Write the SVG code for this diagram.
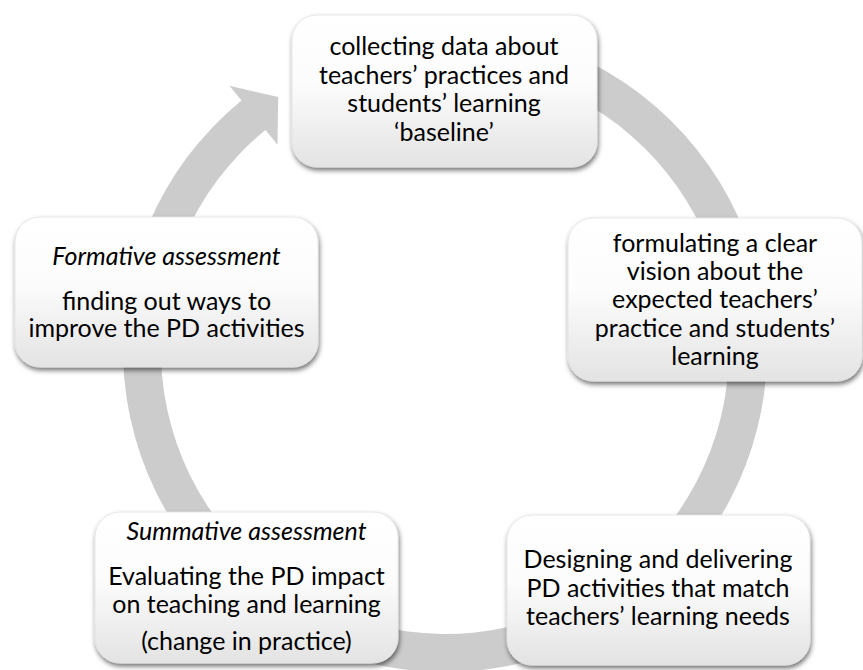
<svg xmlns="http://www.w3.org/2000/svg" width="863" height="670" viewBox="0 0 863 670">
<defs>
<linearGradient id="boxFill" x1="0" y1="0" x2="0" y2="1">
<stop offset="0" stop-color="#ffffff"/>
<stop offset="0.45" stop-color="#fcfcfc"/>
<stop offset="1" stop-color="#e3e3e3"/>
</linearGradient>
<filter id="shadow" x="-10%" y="-10%" width="120%" height="130%">
<feDropShadow dx="1" dy="3" stdDeviation="2.5" flood-color="#000" flood-opacity="0.55"/>
</filter>
<style>
.box{fill:url(#boxFill);stroke:#e2e2e2;stroke-width:0.8;filter:url(#shadow)}
.t{font-family:Lato,"Liberation Sans",sans-serif;font-size:25px;fill:#000;text-anchor:middle}
.i{font-style:italic}
.ring{fill:#cccccc}
</style>
</defs>
<rect width="863" height="670" fill="#ffffff"/>
<g id="connectors">
<path class="ring" d="M 361.7 39 A 322 322 0 1 1 241.5 100.5 L 229.5 85.8 L 278.2 97.1 L 277.5 144.7 L 265.5 129.9 A 284 284 0 1 0 371.5 75.7 Z"/>
</g>
<g id="node-baseline">
<rect class="box" x="292" y="15" width="305" height="152" rx="25"/>
<text class="t" x="444" y="55">collecting data about</text>
<text class="t" x="444" y="83.5">teachers’ practices and</text>
<text class="t" x="444" y="112">students’ learning</text>
<text class="t" x="444" y="140.5">‘baseline’</text>
</g>
<g id="node-vision">
<rect class="box" x="568" y="218" width="294" height="163" rx="25"/>
<text class="t" x="715" y="252">formulating a clear</text>
<text class="t" x="715" y="280">vision about the</text>
<text class="t" x="715" y="308">expected teachers’</text>
<text class="t" x="715" y="337">practice and students’</text>
<text class="t" x="715" y="365">learning</text>
</g>
<g id="node-design">
<rect class="box" x="507" y="515" width="303" height="150" rx="25"/>
<text class="t" x="658" y="568">Designing and delivering</text>
<text class="t" x="658" y="596.5">PD activities that match</text>
<text class="t" x="658" y="625">teachers’ learning needs</text>
</g>
<g id="node-summative">
<rect class="box" x="95" y="512" width="303" height="151" rx="25"/>
<text class="t i" x="246.5" y="540">Summative assessment</text>
<text class="t" x="246.5" y="585">Evaluating the PD impact</text>
<text class="t" x="246.5" y="613">on teaching and learning</text>
<text class="t" x="246.5" y="650">(change in practice)</text>
</g>
<g id="node-formative">
<rect class="box" x="15" y="217" width="303" height="150" rx="25"/>
<text class="t i" x="166.5" y="265">Formative assessment</text>
<text class="t" x="166.5" y="310">finding out ways to</text>
<text class="t" x="166.5" y="337">improve the PD activities</text>
</g>
</svg>
